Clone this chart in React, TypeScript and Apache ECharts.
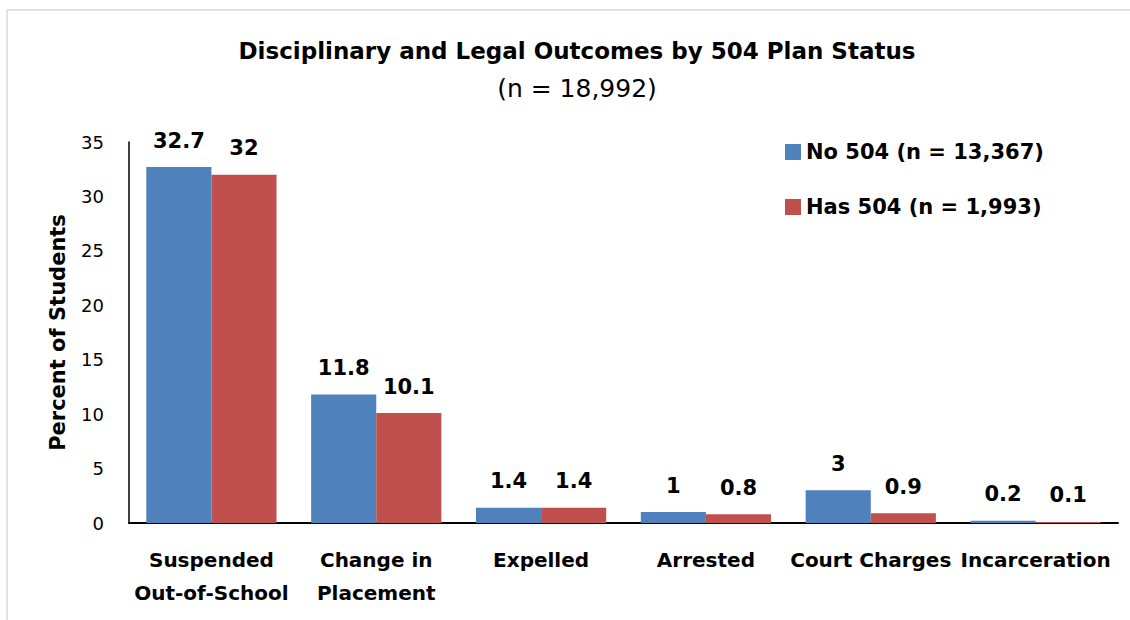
import React, { useEffect, useRef } from "react";
import * as echarts from "echarts";

const categories = ["Suspended\nOut-of-School", "Change in\nPlacement", "Expelled", "Arrested", "Court Charges", "Incarceration"];
const no504 = [32.7, 11.8, 1.4, 1, 3, 0.2];
const has504 = [32, 10.1, 1.4, 0.8, 0.9, 0.1];
const seriesNames = ["No 504 (n = 13,367)", "Has 504 (n = 1,993)"];
const titleText = "Disciplinary and Legal Outcomes by 504 Plan Status";
const subtitleText = "(n = 18,992)";

const FONT = "'DejaVu Sans', sans-serif";

export default function App() {
  const ref = useRef<HTMLDivElement>(null);
  useEffect(() => {
    const chart = echarts.init(ref.current!, undefined, { renderer: "svg" });
    const labelStyle = {
      show: true,
      position: "top" as const,
      distance: 16,
      fontFamily: FONT,
      fontWeight: "bold" as const,
      fontSize: 21,
      color: "#000",
    };
    chart.setOption({
      animation: false,
      backgroundColor: "#fff",
      graphic: [
        {
          type: "rect",
          shape: { x: 7, y: 10, width: 1140, height: 620 },
          style: { fill: "none", stroke: "#d9d9d9", lineWidth: 1.5 },
          silent: true,
        },
      ],
      title: {
        text: titleText,
        subtext: subtitleText,
        left: 572,
        textAlign: "center",
        top: 34,
        itemGap: 14,
        textStyle: { fontFamily: FONT, fontWeight: "bold", fontSize: 23, color: "#000" },
        subtextStyle: { fontFamily: FONT, fontSize: 25, color: "#000" },
      },
      legend: {
        data: seriesNames,
        orient: "vertical",
        left: 780,
        top: 135,
        itemWidth: 16,
        itemHeight: 16,
        itemGap: 31,
        icon: "rect",
        textStyle: { fontFamily: FONT, fontWeight: "bold", fontSize: 21, lineHeight: 24, color: "#000" },
      },
      grid: { left: 129, right: 12, top: 142, bottom: 97, containLabel: false },
      xAxis: {
        type: "category",
        data: categories,
        axisLine: { lineStyle: { color: "#000", width: 2 } },
        axisTick: { show: false },
        axisLabel: {
          fontFamily: FONT,
          fontWeight: "bold",
          fontSize: 20,
          color: "#000",
          margin: 20,
          lineHeight: 33,
          interval: 0,
        },
      },
      yAxis: {
        type: "value",
        min: 0,
        max: 35,
        interval: 5,
        name: "Percent of Students",
        nameLocation: "middle",
        nameGap: 61,
        nameTextStyle: { fontFamily: FONT, fontWeight: "bold", fontSize: 21, color: "#000" },
        axisLine: { show: true, lineStyle: { color: "#000", width: 1.5 } },
        axisTick: { show: false },
        splitLine: { show: false },
        axisLabel: { fontFamily: FONT, fontSize: 18, color: "#000", margin: 25 },
      },
      series: [
        {
          name: seriesNames[0],
          type: "bar",
          data: no504,
          barGap: "0%",
          barCategoryGap: "21%",
          itemStyle: { color: "#4F81BD" },
          label: labelStyle,
        },
        {
          name: seriesNames[1],
          type: "bar",
          data: has504,
          barGap: "0%",
          barCategoryGap: "21%",
          itemStyle: { color: "#C0504D" },
          label: labelStyle,
        },
      ],
    });
    return () => chart.dispose();
  }, []);
  return <div ref={ref} style={{ position: "absolute", left: 0, top: 0, width: 1130, height: 620 }} />;
}
